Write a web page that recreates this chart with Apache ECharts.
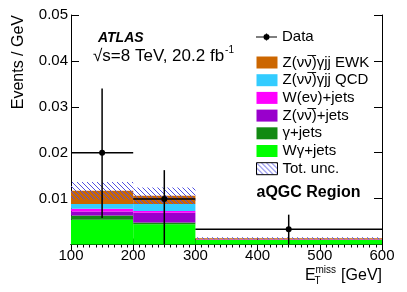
<!DOCTYPE html>
<html>
<head>
<meta charset="utf-8">
<script src="https://cdn.jsdelivr.net/npm/echarts@6/dist/echarts.min.js"></script>
<style>
html,body{margin:0;padding:0;background:#fff;}
#c{width:407px;height:292px;}
</style>
</head>
<body>
<div id="c"></div>
<script>
// ---- data ----
const binEdges = [100, 200, 300, 600];
const wGammaJets = [0.0054, 0.0044, 0.0010];
const gammaJets = [0.0009, 0.0004, 0.00005];
const zJets = [0.0009, 0.0021, 0.00005];
const wJets = [0.0006, 0.0004, 0.00002];
const zgQCD = [0.0010, 0.0015, 0.00005];
const zgEWK = [0.0029, 0.0018, 0.0002];
const totUnc = [0.0019, 0.0018, 0.0002];
const dataX = [150, 250, 450];
const dataXErr = [50, 50, 150];
const dataY = [0.0200, 0.0099, 0.0033];
const dataYHigh = [0.0340, 0.0162, 0.0065];
const dataYLow = [0.0058, 0.0, 0.0];
const xTickValues = [100, 200, 300, 400, 500, 600];
const yTickValues = [0.01, 0.02, 0.03, 0.04, 0.05];

const FONT = '"Liberation Sans", Arial, Helvetica, sans-serif';

// stacked components, bottom to top
const components = [
  {name: 'Wγ+jets', vals: wGammaJets, color: '#00ff00'},
  {name: 'γ+jets', vals: gammaJets, color: '#128a12'},
  {name: 'Z(νν\u0305)+jets', vals: zJets, color: '#9900cc'},
  {name: 'W(eν)+jets', vals: wJets, color: '#ff00ff'},
  {name: 'Z(νν\u0305)γjj QCD', vals: zgQCD, color: '#33ccff'},
  {name: 'Z(νν\u0305)γjj EWK', vals: zgEWK, color: '#cc6600'}
];

// hatch pattern
const pc = document.createElement('canvas');
pc.width = 5; pc.height = 5;
const pctx = pc.getContext('2d');
pctx.strokeStyle = '#5050e0';
pctx.lineWidth = 1;
pctx.beginPath();
pctx.moveTo(-1, -1); pctx.lineTo(6, 6);
pctx.moveTo(-1, 4); pctx.lineTo(1, 6);
pctx.moveTo(4, -1); pctx.lineTo(6, 1);
pctx.stroke();
const hatch = {image: pc, repeat: 'repeat'};

// text measurement for the superscript placement
const mctx = document.createElement('canvas').getContext('2d');
const lumiFont = '17px ' + FONT;
mctx.font = lumiFont;
const lumiText = '√s=8 TeV, 20.2 fb';
const lumiW = mctx.measureText(lumiText).width;

function rectRender(fillOverride) {
  return function (params, api) {
    const p0 = api.coord([api.value(0), api.value(3)]);
    const p1 = api.coord([api.value(1), api.value(2)]);
    const st = api.style();
    if (fillOverride) { st.fill = fillOverride; st.stroke = null; }
    return {
      type: 'rect',
      shape: {x: p0[0], y: p0[1], width: p1[0] - p0[0], height: p1[1] - p0[1]},
      style: st
    };
  };
}

const series = [];
const cum = binEdges.slice(0, -1).map(() => 0);
components.forEach(c => {
  const d = c.vals.map((v, i) => {
    const lo = cum[i];
    cum[i] += v;
    return [binEdges[i], binEdges[i + 1], lo, cum[i]];
  });
  series.push({
    type: 'custom', name: c.name, renderItem: rectRender(null),
    itemStyle: {color: c.color}, encode: {x: [0, 1], y: [2, 3]},
    data: d, z: 2, silent: true
  });
});
series.push({
  type: 'custom', name: 'Tot. unc.', renderItem: rectRender(hatch),
  itemStyle: {color: hatch}, encode: {x: [0, 1], y: [2, 3]},
  data: totUnc.map((u, i) => [binEdges[i], binEdges[i + 1], cum[i] - u, cum[i] + u]),
  z: 3, silent: true
});
series.push({
  type: 'custom', name: 'Data', itemStyle: {color: '#000'},
  encode: {x: 0, y: 1},
  data: dataX.map((x, i) => [x, dataY[i], x - dataXErr[i], x + dataXErr[i], dataYLow[i], dataYHigh[i]]),
  z: 5, silent: true,
  renderItem: function (params, api) {
    const c = api.coord([api.value(0), api.value(1)]);
    const xl = api.coord([api.value(2), api.value(1)]);
    const xh = api.coord([api.value(3), api.value(1)]);
    const yl = api.coord([api.value(0), api.value(4)]);
    const yh = api.coord([api.value(0), api.value(5)]);
    const ls = {stroke: '#000', lineWidth: 1.5};
    return {
      type: 'group',
      children: [
        {type: 'line', shape: {x1: xl[0], y1: c[1], x2: xh[0], y2: c[1]}, style: ls},
        {type: 'line', shape: {x1: c[0], y1: yl[1], x2: c[0], y2: yh[1]}, style: ls},
        {type: 'circle', shape: {cx: c[0], cy: c[1], r: 3}, style: {fill: '#000'}}
      ]
    };
  }
});

const axisLine = {show: true, lineStyle: {color: '#000', width: 1}};
const option = {
  animation: false,
  backgroundColor: '#fff',
  grid: {left: 71, right: 25, top: 15, bottom: 47.5, containLabel: false},
  xAxis: [
    {type: 'value', position: 'bottom', min: 100, max: 600, interval: 100,
     axisLine: axisLine, splitLine: {show: false},
     axisTick: {show: true, inside: true, length: 6, lineStyle: {color: '#000'}},
     minorTick: {show: true, splitNumber: 10, length: 3, lineStyle: {color: '#000'}},
     axisLabel: {show: true, margin: 4, color: '#000', fontSize: 15, fontFamily: FONT,
       formatter: v => xTickValues.indexOf(v) >= 0 ? String(v) : ''}},
    {type: 'value', position: 'top', min: 100, max: 600, interval: 100,
     axisLine: axisLine, splitLine: {show: false},
     axisTick: {show: true, inside: true, length: 6, lineStyle: {color: '#000'}},
     minorTick: {show: true, splitNumber: 10, length: 3, lineStyle: {color: '#000'}},
     axisLabel: {show: false}}
  ],
  yAxis: [
    {type: 'value', position: 'left', min: 0, max: 0.05, interval: 0.01,
     axisLine: axisLine, splitLine: {show: false},
     axisTick: {show: true, inside: true, length: 8, lineStyle: {color: '#000'}},
     axisLabel: {show: true, margin: 3, color: '#000', fontSize: 15, fontFamily: FONT,
       formatter: v => {
         const m = yTickValues.find(t => Math.abs(t - v) < 1e-9);
         return m === undefined ? '' : m.toFixed(2);
       }}},
    {type: 'value', position: 'right', min: 0, max: 0.05, interval: 0.01,
     axisLine: axisLine, splitLine: {show: false},
     axisTick: {show: true, inside: true, length: 8, lineStyle: {color: '#000'}},
     axisLabel: {show: false}}
  ],
  legend: [
    {orient: 'vertical', left: 256, top: 29.5, padding: 0, itemWidth: 21, itemHeight: 12,
     itemGap: 2.7, selectedMode: false,
     textStyle: {fontSize: 15, fontFamily: FONT, color: '#000', lineHeight: 15},
     data: [{name: 'Data', icon: 'path://M0,5.4h21v1.2h-21z M9.9,2.5h1.2v7h-1.2z M13.5,6a3,3 0 1,1 -6,0a3,3 0 1,1 6,0z'}]},
    {orient: 'vertical', left: 256, top: 55, padding: 0, itemWidth: 21, itemHeight: 12,
     itemGap: 2.7, selectedMode: false,
     textStyle: {fontSize: 15, fontFamily: FONT, color: '#000', lineHeight: 15},
     data: components.slice().reverse().map(c => ({name: c.name, icon: 'rect'}))
       .concat([{name: 'Tot. unc.', icon: 'rect', itemStyle: {color: hatch, borderColor: '#000', borderWidth: 1}}])}
  ],
  graphic: [
    {type: 'text', x: 98, y: 38, style: {text: 'ATLAS', font: 'italic bold 14px ' + FONT, fill: '#000', textVerticalAlign: 'middle'}},
    {type: 'text', x: 93, y: 56, style: {text: lumiText, font: lumiFont, fill: '#000', textVerticalAlign: 'middle'}},
    {type: 'text', x: 93 + lumiW + 1, y: 50.5, style: {text: '-1', font: '10px ' + FONT, fill: '#000', textVerticalAlign: 'middle'}},
    {type: 'text', x: 256.5, y: 192.5, style: {text: 'aQGC Region', font: 'bold 16px ' + FONT, fill: '#000', textVerticalAlign: 'middle'}},
    {type: 'text', x: 18.5, y: 15, rotation: Math.PI / 2, style: {text: 'Events / GeV', font: '16px ' + FONT, fill: '#000', textAlign: 'right', textVerticalAlign: 'middle'}},
    {type: 'text', x: 305, y: 275.5, style: {text: 'E', font: '16px ' + FONT, fill: '#000', textVerticalAlign: 'middle'}},
    {type: 'text', x: 315.5, y: 270, style: {text: 'miss', font: '10px ' + FONT, fill: '#000', textVerticalAlign: 'middle'}},
    {type: 'text', x: 314.5, y: 281, style: {text: 'T', font: '10px ' + FONT, fill: '#000', textVerticalAlign: 'middle'}},
    {type: 'text', x: 382, y: 275.5, style: {text: '[GeV]', font: '16px ' + FONT, fill: '#000', textAlign: 'right', textVerticalAlign: 'middle'}}
  ],
  series: series
};
const chart = echarts.init(document.getElementById('c'), null, {renderer: 'canvas'});
chart.setOption(option);
</script>
</body>
</html>
